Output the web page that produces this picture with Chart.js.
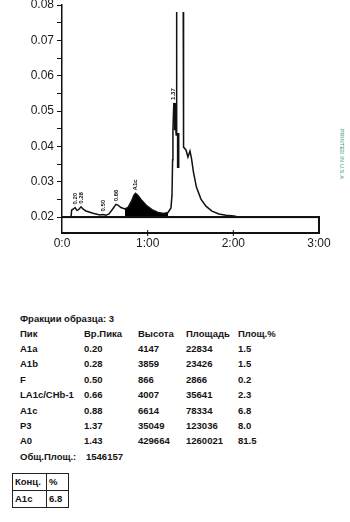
<!DOCTYPE html>
<html>
<head>
<meta charset="utf-8">
<script src="https://cdn.jsdelivr.net/npm/chart.js@4/dist/chart.umd.min.js"></script>
<style>
  body { margin: 0; background: #fff; width: 350px; height: 522px; overflow: hidden; position: relative; font-family: Arial, "Liberation Sans", sans-serif; }
  #chart { position: absolute; left: 0; top: 0; }
  .t { position: absolute; font-weight: bold; font-size: 9.5px; color: #141414; white-space: nowrap; line-height: 12px; margin-top: -6px; }
  #printed { position: absolute; left: 317px; top: 151px; font-size: 5.5px; color: #3f9a6e; transform: rotate(90deg); white-space: nowrap; letter-spacing: 0.2px; }
  #box { position: absolute; left: 12px; top: 473px; border-collapse: collapse; font-weight: bold; font-size: 9.5px; color: #141414; }
  #box td { border: 1px solid #222; padding: 0 2px; height: 16px; line-height: 12px; }
</style>
</head>
<body>
<canvas id="chart" width="350" height="262"></canvas>
<div id="printed">PRINTED IN U.S.A</div>
<div id="table"></div>
<table id="box">
  <tr><td style="width:29px">Конц.</td><td style="width:17px">%</td></tr>
  <tr><td>A1c</td><td>6.8</td></tr>
</table>
<script>
// chromatogram trace (minutes / absorbance)
var times = [0.105, 0.113, 0.134, 0.152, 0.175, 0.193, 0.222, 0.245, 0.280, 0.362,
  0.443, 0.478, 0.513, 0.548, 0.583, 0.630, 0.653, 0.688, 0.735, 0.770,
  0.811, 0.840, 0.858, 0.887, 0.922, 0.980, 1.050, 1.120, 1.190, 1.237,
  1.272, 1.284, 1.291, 1.295, 1.305, 1.319, 1.333, 1.338, 1.339, 1.377,
  1.415, 1.419, 1.447, 1.470, 1.494, 1.511, 1.534, 1.569, 1.622, 1.680,
  1.750, 1.832, 1.914, 2.007, 2.054];
var signal = [0.0200, 0.0220, 0.0223, 0.0227, 0.0219, 0.0221, 0.0229, 0.0223, 0.0217, 0.0211,
  0.0206, 0.0207, 0.0205, 0.0209, 0.0220, 0.0236, 0.0234, 0.0227, 0.0223, 0.0227,
  0.0245, 0.0262, 0.0267, 0.0261, 0.0250, 0.0234, 0.0221, 0.0213, 0.0210, 0.0213,
  0.0226, 0.0262, 0.0362, 0.0446, 0.0523, 0.0480, 0.0432, 0.0644, 0.0780, null,
  0.0780, 0.0398, 0.0390, 0.0370, 0.0387, 0.0367, 0.0328, 0.0285, 0.0251, 0.0231,
  0.0217, 0.0209, 0.0205, 0.0203, 0.0200];

var baselineValue = 0.02;
var a1cStart = 0.735, a1cEnd = 1.237;

// heavy integrator marks near P3 / A0 (time, from, to)
var markTimes = [1.318, 1.356];
var markFrom = [0.0523, 0.0438];
var markTo = [0.0446, 0.0339];

// peak marks printed by the integrator
var peakLabels = ['0.20', '0.28', '0.50', '0.66', 'A1c', '1.37'];
var peakTimes = [0.152, 0.222, 0.478, 0.630, 0.858, 1.305];

var xTickLabels = ['0:0', '1:00', '2:00', '3:00'];

// peak table
var tableTitle = 'Фракции образца: 3';
var tableHeader = ['Пик', 'Вр.Пика', 'Высота', 'Площадь', 'Площ.%'];
var peakNames = ['A1a', 'A1b', 'F', 'LA1c/CHb-1', 'A1c', 'P3', 'A0'];
var retTimes = ['0.20', '0.28', '0.50', '0.66', '0.88', '1.37', '1.43'];
var heights = [4147, 3859, 866, 4007, 6614, 35049, 429664];
var areas = [22834, 23426, 2866, 35641, 78334, 123036, 1260021];
var areaPct = ['1.5', '1.5', '0.2', '2.3', '6.8', '8.0', '81.5'];
var totalArea = 1546157;

var yMin = 0.0155, yMax = 0.08;

var trace = [];
for (var i = 0; i < times.length; i++) trace.push({x: times[i], y: signal[i]});

var a1cFill = [];
for (var i = 0; i < times.length; i++) {
  if (times[i] >= a1cStart && times[i] <= a1cEnd) a1cFill.push({x: times[i], y: signal[i]});
}

var marks = [];
for (var i = 0; i < markTimes.length; i++) {
  if (i > 0) marks.push({x: markTimes[i], y: null});
  marks.push({x: markTimes[i], y: markFrom[i]});
  marks.push({x: markTimes[i], y: markTo[i]});
}

var baseline = [{x: 0, y: baselineValue}, {x: 3, y: baselineValue}, {x: 3, y: yMin}];

// frame of the plot and the small rotated peak marks
var extras = {
  id: 'extras',
  afterDraw: function(chart) {
    var ctx = chart.ctx, xs = chart.scales.x, ys = chart.scales.y;
    var left = xs.getPixelForValue(0), right = xs.getPixelForValue(3);
    var bottom = ys.getPixelForValue(yMin), base = ys.getPixelForValue(baselineValue);
    ctx.save();
    ctx.fillStyle = '#111';
    ctx.fillRect(left, bottom - 1, right - left + 1, 2);
    ctx.fillRect(left, base - 1, right - left + 1, 2);
    ctx.fillRect(right - 1, base - 1, 2, bottom - base + 1);
    for (var k = 1; k < 3; k++) ctx.fillRect(xs.getPixelForValue(k) - 0.5, bottom - 3, 1, 6);

    ctx.font = 'bold 6px Arial';
    ctx.textBaseline = 'middle';
    ctx.textAlign = 'left';
    for (var i = 0; i < peakLabels.length; i++) {
      var top = 0;
      for (var j = 0; j < times.length; j++) {
        if (Math.abs(times[j] - peakTimes[i]) < 0.015 && signal[j] > top) top = signal[j];
      }
      ctx.save();
      ctx.translate(xs.getPixelForValue(peakTimes[i]), ys.getPixelForValue(top) - 3);
      ctx.rotate(-Math.PI / 2);
      ctx.fillText(peakLabels[i], 0, 0);
      ctx.restore();
    }
    ctx.restore();
  }
};

new Chart(document.getElementById('chart'), {
  type: 'line',
  data: {
    datasets: [{
      data: trace,
      borderColor: '#111',
      borderWidth: 1.5,
      pointRadius: 0,
      tension: 0,
      spanGaps: false,
      order: 0
    }, {
      data: marks,
      borderColor: '#111',
      borderWidth: 2.6,
      pointRadius: 0,
      spanGaps: false,
      order: 0
    }, {
      data: baseline,
      borderColor: '#111',
      borderWidth: 1.8,
      pointRadius: 0,
      clip: false,
      order: 1
    }, {
      data: a1cFill,
      borderWidth: 0,
      borderColor: '#000',
      backgroundColor: '#000',
      pointRadius: 0,
      fill: {value: baselineValue},
      order: 2
    }]
  },
  options: {
    responsive: false,
    animation: false,
    layout: {padding: {top: 5, right: 31, left: 0, bottom: 0}},
    plugins: {legend: {display: false}, tooltip: {enabled: false}},
    scales: {
      x: {
        type: 'linear', min: 0, max: 3,
        afterFit: function(s) { s.height = 29; s.paddingLeft = 0; s.paddingRight = 0; },
        border: {display: false},
        grid: {display: false},
        ticks: {
          stepSize: 1, padding: -5, color: '#1a1a1a',
          font: {family: 'Arial', size: 12},
          callback: function(v) { return xTickLabels[Math.round(v)]; }
        }
      },
      y: {
        min: yMin, max: yMax,
        afterFit: function(s) { s.width = 62; s.paddingTop = 0; s.paddingBottom = 0; },
        border: {color: '#111', width: 1.5},
        grid: {drawOnChartArea: false, color: '#111', tickLength: 5},
        ticks: {
          stepSize: 0.005, includeBounds: false, padding: 3, color: '#1a1a1a',
          font: {family: 'Arial', size: 12},
          callback: function(v) {
            var h = v * 100;
            return Math.abs(h - Math.round(h)) < 1e-6 ? v.toFixed(2) : '';
          }
        }
      }
    }
  },
  plugins: [extras]
});

// text table under the chart
var table = document.getElementById('table');
var colX = [20, 84, 138, 186, 238];
function put(text, x, y) {
  var d = document.createElement('div');
  d.className = 't';
  d.style.left = x + 'px';
  d.style.top = y + 'px';
  d.textContent = text;
  table.appendChild(d);
}
put(tableTitle, 20, 319);
for (var c = 0; c < tableHeader.length; c++) put(tableHeader[c], colX[c], 334);
for (var r = 0; r < peakNames.length; r++) {
  var y = 349 + r * 15.4;
  var row = [peakNames[r], retTimes[r], heights[r], areas[r], areaPct[r]];
  for (var c = 0; c < row.length; c++) put(String(row[c]), colX[c], y);
}
put('Общ.Площ.:', 20, 457);
put(String(totalArea), 86, 457);
</script>
</body>
</html>
